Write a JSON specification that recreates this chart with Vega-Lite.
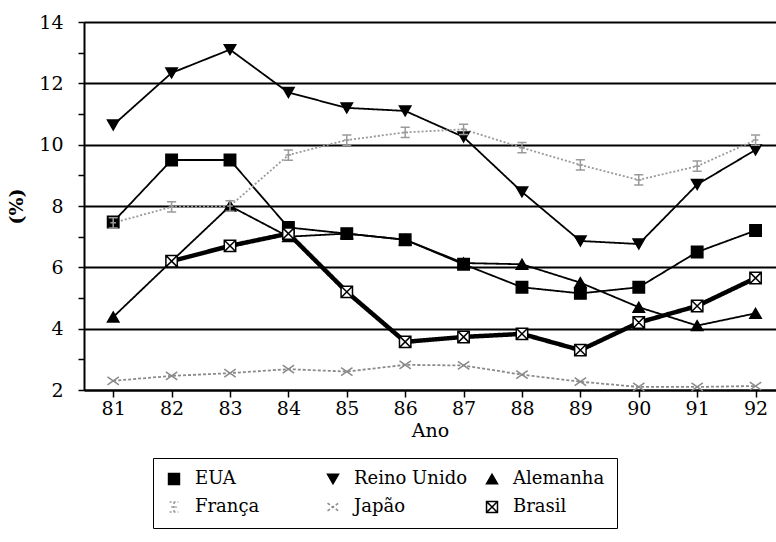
{
  "$schema": "https://vega.github.io/schema/vega-lite/v6.json",
  "autosize": {"type": "none"},
  "padding": {"left": 84, "top": 22, "right": 0, "bottom": 152},
  "width": 692,
  "height": 368,
  "background": "white",
  "config": {
    "font": "DejaVu Serif",
    "view": {"stroke": null},
    "axis": {"labelFont": "DejaVu Serif", "titleFont": "DejaVu Serif"},
    "legend": {"labelFont": "DejaVu Serif"}
  },
  "data": {
    "values": [
      {"ano": 81, "pais": "EUA", "v": 7.48}, {"ano": 82, "pais": "EUA", "v": 9.5}, {"ano": 83, "pais": "EUA", "v": 9.5}, {"ano": 84, "pais": "EUA", "v": 7.3}, {"ano": 85, "pais": "EUA", "v": 7.1}, {"ano": 86, "pais": "EUA", "v": 6.9}, {"ano": 87, "pais": "EUA", "v": 6.1}, {"ano": 88, "pais": "EUA", "v": 5.35}, {"ano": 89, "pais": "EUA", "v": 5.15}, {"ano": 90, "pais": "EUA", "v": 5.35}, {"ano": 91, "pais": "EUA", "v": 6.5}, {"ano": 92, "pais": "EUA", "v": 7.2},
      {"ano": 81, "pais": "Reino Unido", "v": 10.64}, {"ano": 82, "pais": "Reino Unido", "v": 12.34}, {"ano": 83, "pais": "Reino Unido", "v": 13.1}, {"ano": 84, "pais": "Reino Unido", "v": 11.7}, {"ano": 85, "pais": "Reino Unido", "v": 11.2}, {"ano": 86, "pais": "Reino Unido", "v": 11.1}, {"ano": 87, "pais": "Reino Unido", "v": 10.25}, {"ano": 88, "pais": "Reino Unido", "v": 8.46}, {"ano": 89, "pais": "Reino Unido", "v": 6.86}, {"ano": 90, "pais": "Reino Unido", "v": 6.76}, {"ano": 91, "pais": "Reino Unido", "v": 8.7}, {"ano": 92, "pais": "Reino Unido", "v": 9.83},
      {"ano": 81, "pais": "Alemanha", "v": 4.38}, {"ano": 82, "pais": "Alemanha", "v": 6.2}, {"ano": 83, "pais": "Alemanha", "v": 8.0}, {"ano": 84, "pais": "Alemanha", "v": 7.0}, {"ano": 85, "pais": "Alemanha", "v": 7.1}, {"ano": 86, "pais": "Alemanha", "v": 6.9}, {"ano": 87, "pais": "Alemanha", "v": 6.14}, {"ano": 88, "pais": "Alemanha", "v": 6.1}, {"ano": 89, "pais": "Alemanha", "v": 5.5}, {"ano": 90, "pais": "Alemanha", "v": 4.7}, {"ano": 91, "pais": "Alemanha", "v": 4.1}, {"ano": 92, "pais": "Alemanha", "v": 4.5},
      {"ano": 81, "pais": "França", "v": 7.45}, {"ano": 82, "pais": "França", "v": 7.97}, {"ano": 83, "pais": "França", "v": 8.0}, {"ano": 84, "pais": "França", "v": 9.66}, {"ano": 85, "pais": "França", "v": 10.15}, {"ano": 86, "pais": "França", "v": 10.4}, {"ano": 87, "pais": "França", "v": 10.5}, {"ano": 88, "pais": "França", "v": 9.9}, {"ano": 89, "pais": "França", "v": 9.34}, {"ano": 90, "pais": "França", "v": 8.85}, {"ano": 91, "pais": "França", "v": 9.3}, {"ano": 92, "pais": "França", "v": 10.15},
      {"ano": 81, "pais": "Japão", "v": 2.3}, {"ano": 82, "pais": "Japão", "v": 2.46}, {"ano": 83, "pais": "Japão", "v": 2.55}, {"ano": 84, "pais": "Japão", "v": 2.68}, {"ano": 85, "pais": "Japão", "v": 2.6}, {"ano": 86, "pais": "Japão", "v": 2.82}, {"ano": 87, "pais": "Japão", "v": 2.8}, {"ano": 88, "pais": "Japão", "v": 2.5}, {"ano": 89, "pais": "Japão", "v": 2.27}, {"ano": 90, "pais": "Japão", "v": 2.1}, {"ano": 91, "pais": "Japão", "v": 2.1}, {"ano": 92, "pais": "Japão", "v": 2.13},
      {"ano": 82, "pais": "Brasil", "v": 6.2}, {"ano": 83, "pais": "Brasil", "v": 6.7}, {"ano": 84, "pais": "Brasil", "v": 7.1}, {"ano": 85, "pais": "Brasil", "v": 5.2}, {"ano": 86, "pais": "Brasil", "v": 3.57}, {"ano": 87, "pais": "Brasil", "v": 3.73}, {"ano": 88, "pais": "Brasil", "v": 3.83}, {"ano": 89, "pais": "Brasil", "v": 3.3}, {"ano": 90, "pais": "Brasil", "v": 4.2}, {"ano": 91, "pais": "Brasil", "v": 4.74}, {"ano": 92, "pais": "Brasil", "v": 5.65}
    ]
  },
  "encoding": {
    "x": {
      "field": "ano", "type": "quantitative",
      "scale": {"domain": [80.5, 92.35], "nice": false, "zero": false},
      "axis": {
        "values": [81, 82, 83, 84, 85, 86, 87, 88, 89, 90, 91, 92],
        "format": "d", "title": "Ano", "grid": false,
        "domainColor": "black", "domainWidth": 2,
        "tickColor": "black", "tickWidth": 1.5, "tickSize": 7,
        "labelFontSize": 19, "labelColor": "black", "labelPadding": 2,
        "titleFontSize": 19, "titleFontWeight": "normal", "titleColor": "black", "titlePadding": 3
      }
    },
    "y": {
      "field": "v", "type": "quantitative",
      "scale": {"domain": [2, 14], "nice": false, "zero": false},
      "axis": {
        "values": [2, 3, 4, 5, 6, 7, 8, 9, 10, 11, 12, 13, 14],
        "labelExpr": "datum.value % 2 === 0 ? datum.label : ''",
        "title": "(%)", "grid": true,
        "gridColor": "black", "gridWidth": 2,
        "gridOpacity": {"condition": {"test": "datum.value % 2 === 0", "value": 1}, "value": 0},
        "domainColor": "black", "domainWidth": 2,
        "tickColor": "black", "tickWidth": 1.5, "tickSize": 6,
        "labelFontSize": 19, "labelColor": "black", "labelPadding": 15,
        "titleFontSize": 19, "titleFontWeight": "bold", "titleColor": "black", "titlePadding": 12
      }
    }
  },
  "layer": [
    {
      "mark": {"type": "line"},
      "encoding": {
        "detail": {"field": "pais"},
        "stroke": {
          "field": "pais", "type": "nominal",
          "scale": {"domain": ["EUA", "Reino Unido", "Alemanha", "França", "Japão", "Brasil"], "range": ["black", "black", "black", "#9a9a9a", "#8a8a8a", "black"]}
        },
        "strokeDash": {
          "field": "pais", "type": "nominal",
          "scale": {"domain": ["EUA", "Reino Unido", "Alemanha", "França", "Japão", "Brasil"], "range": [[1, 0], [1, 0], [1, 0], [2, 2], [3, 2], [1, 0]]}
        },
        "strokeWidth": {"condition": {"test": "datum.pais === 'Brasil'", "value": 4.5}, "value": 1.8}
      }
    },
    {
      "mark": {"type": "point", "filled": true, "size": 130, "strokeWidth": 1.5, "opacity": 1},
      "encoding": {
        "shape": {
          "field": "pais", "type": "nominal",
          "scale": {
            "domain": ["EUA", "Reino Unido", "Alemanha", "França", "Japão", "Brasil"],
            "range": ["square", "triangle-down", "triangle-up", "M -0.8 -0.9 L 0.8 -0.9 M -0.8 0.9 L 0.8 0.9 M 0 -0.9 L 0 0.9 M -0.5 0 L 0.5 0", "M -1 -0.7 L 1 0.7 M -1 0.7 L 1 -0.7", "M -1 -1 L 1 -1 L 1 1 L -1 1 Z M -1 -1 L 1 1 M -1 1 L 1 -1"]
          },
          "legend": {
            "title": null, "orient": "none", "legendX": 69, "legendY": 436,
            "direction": "horizontal", "columns": 3, "gridAlign": "all",
            "strokeColor": "black", "fillColor": "white", "padding": 12,
            "columnPadding": 16, "rowPadding": 10,
            "labelFontSize": 18, "labelColor": "black",
            "symbolSize": 120, "symbolStrokeWidth": 1.5, "labelOffset": 12, "offset": 0
          }
        },
        "fill": {
          "field": "pais", "type": "nominal",
          "scale": {"domain": ["EUA", "Reino Unido", "Alemanha", "França", "Japão", "Brasil"], "range": ["black", "black", "black", "#9a9a9a", "#8a8a8a", "white"]}
        },
        "stroke": {
          "field": "pais", "type": "nominal"
        }
      }
    }
  ]
}
